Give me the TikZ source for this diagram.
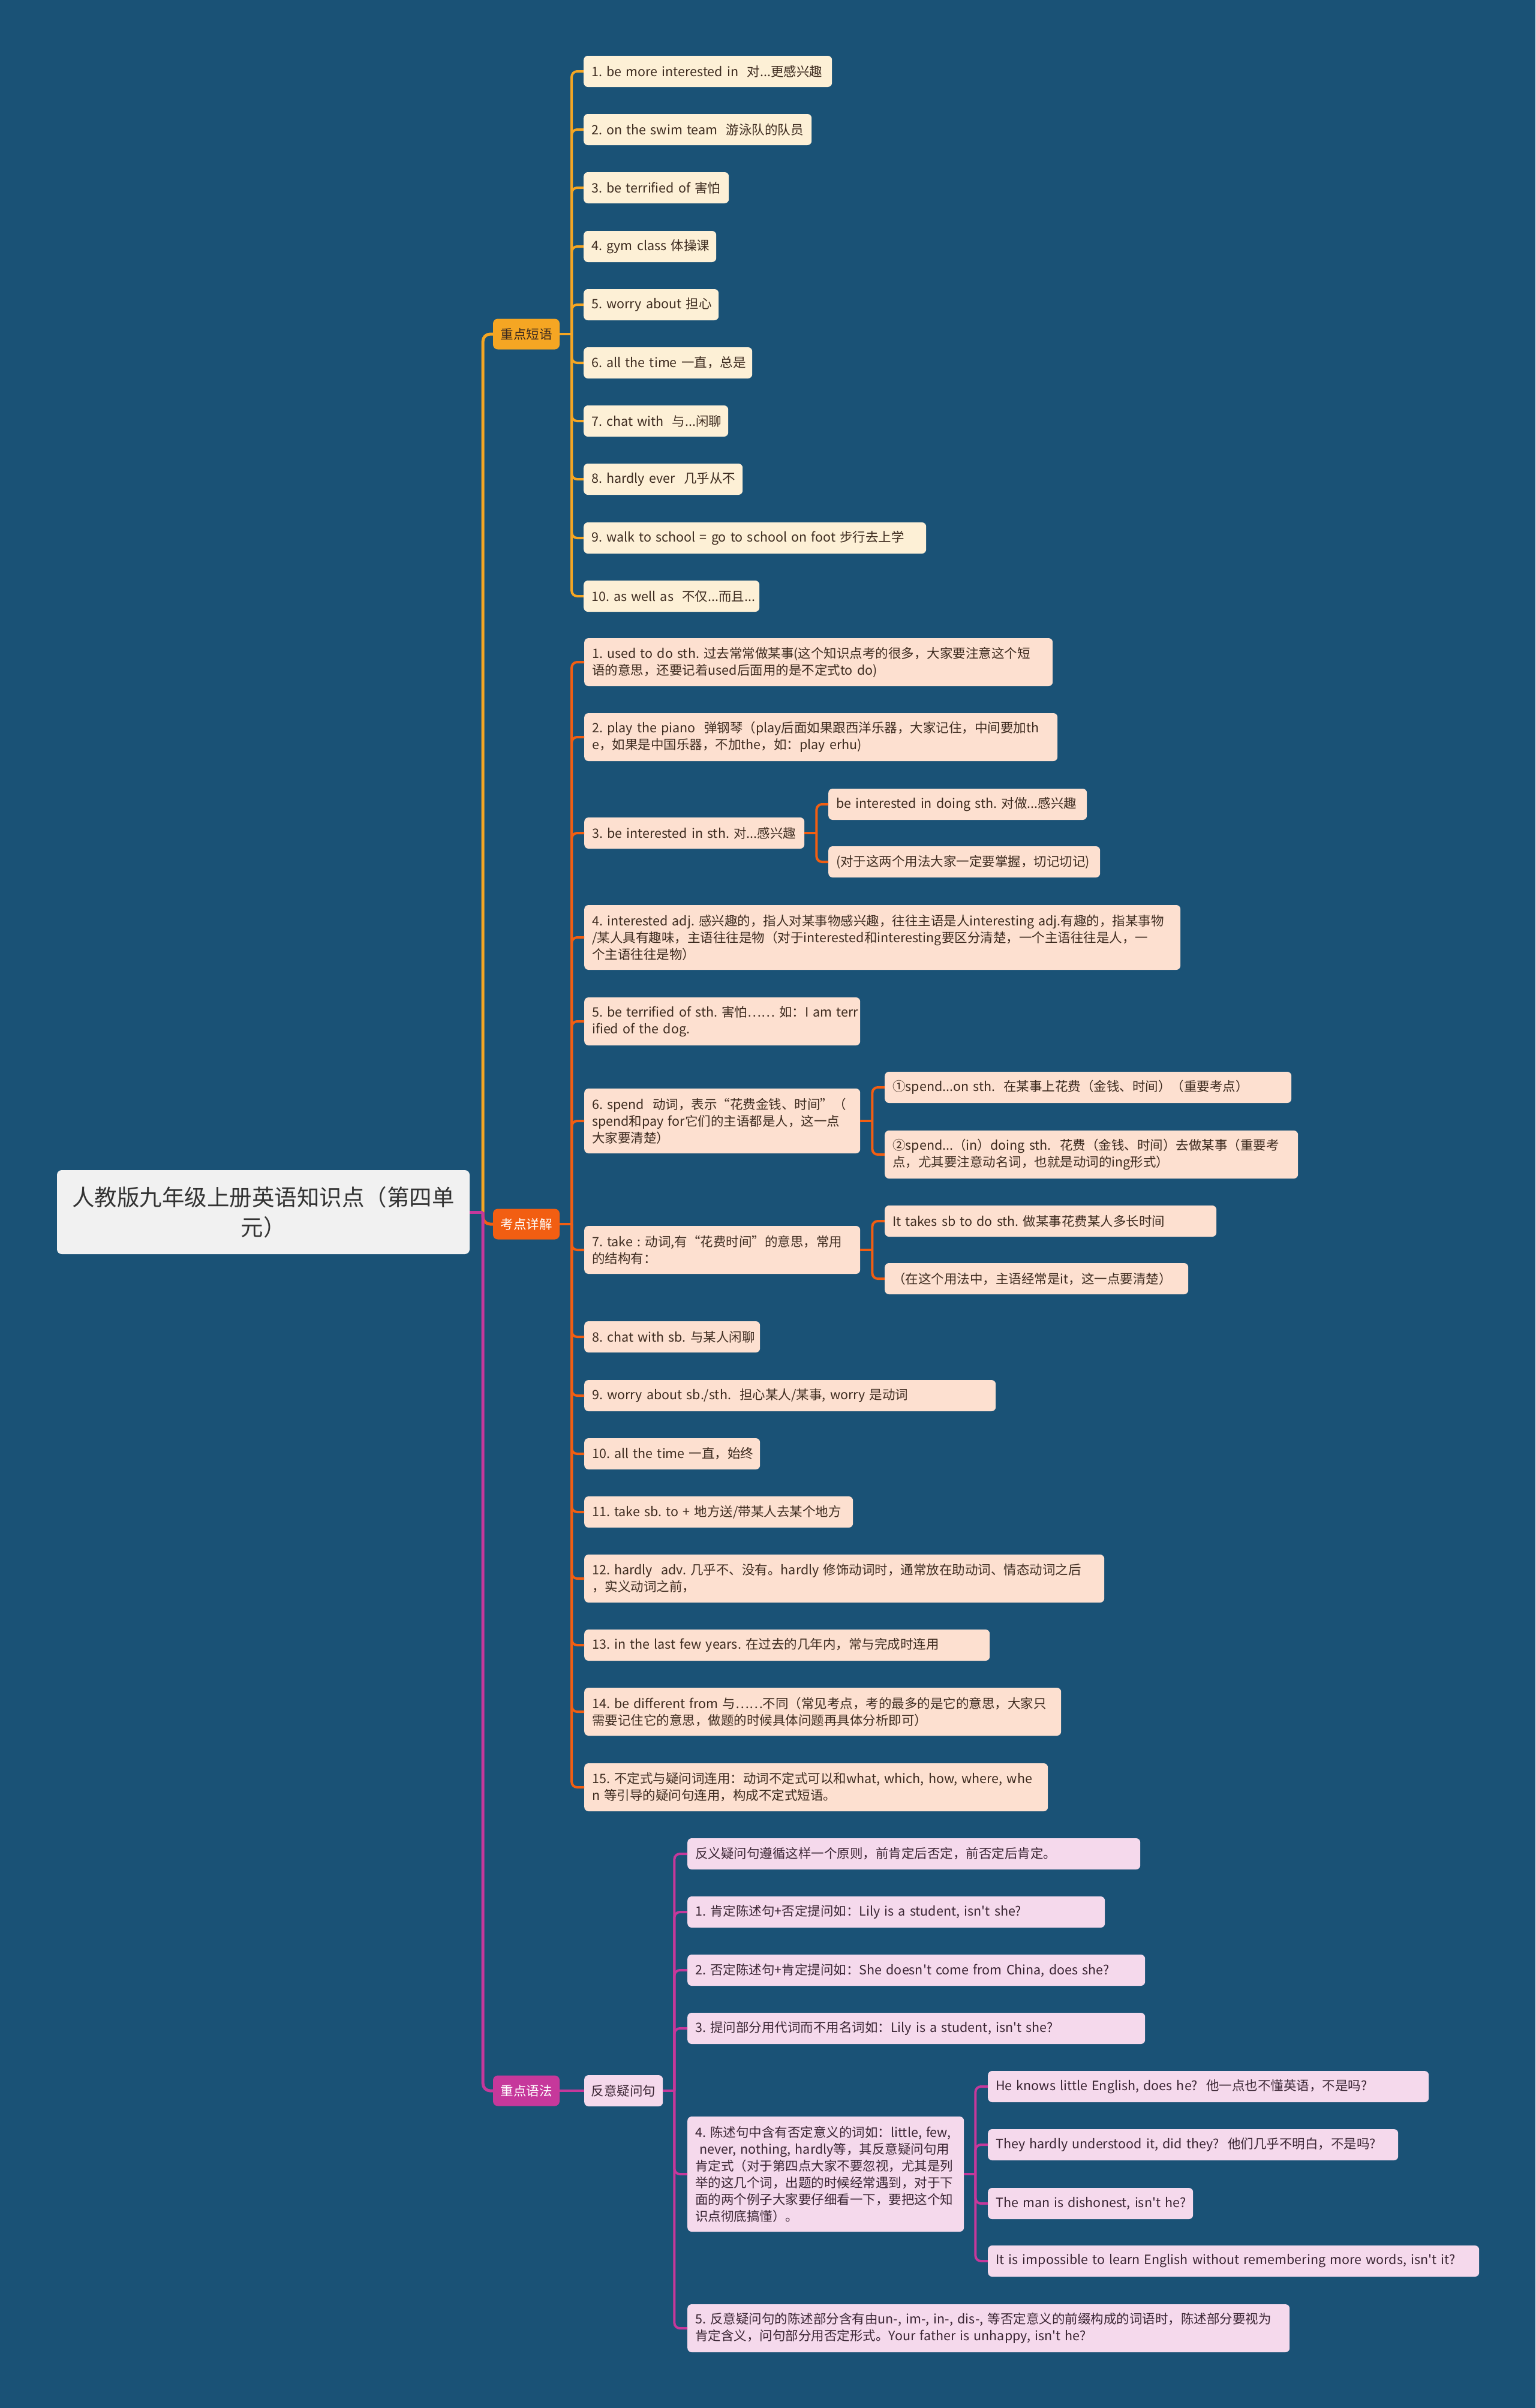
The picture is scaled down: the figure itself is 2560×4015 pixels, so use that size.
\documentclass[tikz,border=0pt]{standalone}
\usepackage{fontspec}
\newfontfamily\zhfont{Noto Sans CJK SC}
\newcommand\NoBr[1]{\mbox{#1}}
\definecolor{bgc}{HTML}{1A5276}
\definecolor{rootfill}{HTML}{F1F1F1}
\definecolor{ycol}{HTML}{F5A623}
\definecolor{yfill}{HTML}{FDF0D6}
\definecolor{ocol}{HTML}{F25E12}
\definecolor{ofill}{HTML}{FDE0D0}
\definecolor{pcol}{HTML}{C6389B}
\definecolor{pfill}{HTML}{F5D9EC}
\definecolor{tdark}{HTML}{3D2B1F}
\definecolor{pdark}{HTML}{3A2533}
\begin{document}
\frenchspacing
\begin{tikzpicture}[x=1pt,y=-1pt,
  box/.style={rounded corners=7pt, anchor=west, align=left, inner xsep=13pt, inner ysep=2pt,
    font=\zhfont\fontsize{21.5}{28}\selectfont},
  n1/.style={minimum height=52pt},
  n2/.style={minimum height=80pt},
  n3/.style={minimum height=108pt},
  n6/.style={minimum height=192pt},
  ybox/.style={box, fill=yfill, text=tdark},
  obox/.style={box, fill=ofill, text=tdark},
  pbox/.style={box, fill=pfill, text=pdark},
  lone/.style={rounded corners=8pt, minimum width=111pt, minimum height=51pt, inner sep=0pt,
    font=\zhfont\fontsize{21.5}{28}\selectfont},
  cone/.style={line width=5pt, rounded corners=12pt},
  ctwo/.style={line width=4pt, rounded corners=9pt}
]
\fill[bgc] (0,0) rectangle (2560,4015);
\useasboundingbox (0,0) rectangle (2560,4015);

% root
\node[rounded corners=8pt, fill=rootfill, text=black!80, minimum width=688pt, minimum height=140pt,
  align=center, inner sep=0pt, font=\zhfont\fontsize{37.5}{50}\selectfont] (root) at (439,2021)
  {人教版九年级上册英语知识点（第四单\\元）};

% level 1
\node[lone, fill=ycol, text=tdark] (ka) at (877.5,557) {重点短语};
\node[lone, fill=ocol, text=white] (kb) at (877.5,2041) {考点详解};
\node[lone, fill=pcol, text=white] (kc) at (877.5,3486) {重点语法};

% yellow branch
\node[ybox, n1, text width=388pt] (y1) at (973,119) {\NoBr{1. be more interested in\ \ 对...更感兴趣}};
\node[ybox, n1, text width=354pt] (y2) at (973,216) {\NoBr{2. on the swim team\ \ 游泳队的队员}};
\node[ybox, n1, text width=216pt] (y3) at (973,313) {\NoBr{3. be terrified of 害怕}};
\node[ybox, n1, text width=195pt] (y4) at (973,411) {\NoBr{4. gym class 体操课}};
\node[ybox, n1, text width=199pt] (y5) at (973,508) {\NoBr{5. worry about 担心}};
\node[ybox, n1, text width=255pt] (y6) at (973,605) {\NoBr{6. all the time 一直，总是}};
\node[ybox, n1, text width=215pt] (y7) at (973,702) {\NoBr{7. chat with\ \ 与...闲聊}};
\node[ybox, n1, text width=239pt] (y8) at (973,799) {\NoBr{8. hardly ever\ \ 几乎从不}};
\node[ybox, n1, text width=545pt] (y9) at (973,897) {\NoBr{9. walk to school = go to school on foot 步行去上学}};
\node[ybox, n1, text width=267pt] (y10) at (973,994) {\NoBr{10. as well as\ \ 不仅...而且...}};

% orange branch
\node[obox, n2, text width=755pt] (o1) at (974,1104) {\NoBr{1. used to do sth. 过去常常做某事(这个知识点考的很多，大家要注意这个短}\\\NoBr{语的意思，还要记着used后面用的是不定式to do)}};
\node[obox, n2, text width=763pt] (o2) at (974,1229) {\NoBr{2. play the piano\ \ 弹钢琴（play后面如果跟西洋乐器，大家记住，中间要加th}\\\NoBr{e，如果是中国乐器，不加the，如：play erhu)}};
\node[obox, n1, text width=341pt] (o3) at (974,1389) {\NoBr{3. be interested in sth. 对...感兴趣}};
\node[obox, n1, text width=405pt] (o3a) at (1381,1341) {\NoBr{be interested in doing sth. 对做...感兴趣}};
\node[obox, n1, text width=427pt] (o3b) at (1381,1437) {\NoBr{(对于这两个用法大家一定要掌握，切记切记)}};
\node[obox, n3, text width=968pt] (o4) at (974,1563) {\NoBr{4. interested adj. 感兴趣的，指人对某事物感兴趣，往往主语是人interesting adj.有趣的，指某事物}\\\NoBr{/某人具有趣味，主语往往是物（对于interested和interesting要区分清楚，一个主语往往是人，一}\\\NoBr{个主语往往是物）}};
\node[obox, n2, text width=434pt] (o5) at (974,1703) {\NoBr{5. be terrified of sth. 害怕…… 如：I am terr}\\\NoBr{ified of the dog.}};
\node[obox, n3, text width=434pt] (o6) at (974,1869) {\NoBr{6. spend\ \ 动词，表示“花费金钱、时间”（}\\\NoBr{spend和pay for它们的主语都是人，这一点}\\\NoBr{大家要清楚）}};
\node[obox, n1, text width=652pt] (o6a) at (1475,1813) {\NoBr{①spend...on sth.\ \ 在某事上花费（金钱、时间）（重要考点）}};
\node[obox, n2, text width=663pt] (o6b) at (1475,1925) {\NoBr{②spend...（in）doing sth.\ \ 花费（金钱、时间）去做某事（重要考}\\\NoBr{点，尤其要注意动名词，也就是动词的ing形式）}};
\node[obox, n2, text width=434pt] (o7) at (974,2084) {\NoBr{7. take : 动词,有“花费时间”的意思，常用}\\\NoBr{的结构有：}};
\node[obox, n1, text width=527pt] (o7a) at (1475,2036) {\NoBr{It takes sb to do sth. 做某事花费某人多长时间}};
\node[obox, n1, text width=480pt] (o7b) at (1475,2132) {\NoBr{（在这个用法中，主语经常是it，这一点要清楚）}};
\node[obox, n1, text width=267pt] (o8) at (974,2229) {\NoBr{8. chat with sb. 与某人闲聊}};
\node[obox, n1, text width=660pt] (o9) at (974,2327) {\NoBr{9. worry about sb./sth.\ \ 担心某人/某事, worry 是动词}};
\node[obox, n1, text width=267pt] (o10) at (974,2424) {\NoBr{10. all the time 一直，始终}};
\node[obox, n1, text width=422pt] (o11) at (974,2521) {\NoBr{11. take sb. to + 地方送/带某人去某个地方}};
\node[obox, n2, text width=841pt] (o12) at (974,2632) {\NoBr{12. hardly\ \ adv. 几乎不、没有。hardly 修饰动词时，通常放在助动词、情态动词之后}\\\NoBr{，实义动词之前，}};
\node[obox, n1, text width=650pt] (o13) at (974,2743) {\NoBr{13. in the last few years. 在过去的几年内，常与完成时连用}};
\node[obox, n2, text width=769pt] (o14) at (974,2854) {\NoBr{14. be different from 与……不同（常见考点，考的最多的是它的意思，大家只}\\\NoBr{需要记住它的意思，做题的时候具体问题再具体分析即可）}};
\node[obox, n2, text width=747pt] (o15) at (974,2980) {\NoBr{15. 不定式与疑问词连用：动词不定式可以和what, which, how, where, whe}\\\NoBr{n 等引导的疑问句连用，构成不定式短语。}};

% purple branch
\node[pbox, n1, text width=109pt, inner xsep=11pt, align=center] (pq) at (974,3486) {反意疑问句};
\node[pbox, n1, text width=729pt] (p0) at (1146,3091) {\NoBr{反义疑问句遵循这样一个原则，前肯定后否定，前否定后肯定。}};
\node[pbox, n1, text width=670pt] (p1) at (1146,3188) {\NoBr{1. 肯定陈述句+否定提问如：Lily is a student, isn't she?}};
\node[pbox, n1, text width=737pt] (p2) at (1146,3285) {\NoBr{2. 否定陈述句+肯定提问如：She doesn't come from China, does she?}};
\node[pbox, n1, text width=737pt] (p3) at (1146,3382) {\NoBr{3. 提问部分用代词而不用名词如：Lily is a student, isn't she?}};
\node[pbox, n6, text width=435pt] (p4) at (1146,3625) {\NoBr{4. 陈述句中含有否定意义的词如：little, few,}\\\NoBr{\ never, nothing, hardly等，其反意疑问句用}\\\NoBr{肯定式（对于第四点大家不要忽视，尤其是列}\\\NoBr{举的这几个词，出题的时候经常遇到，对于下}\\\NoBr{面的两个例子大家要仔细看一下，要把这个知}\\\NoBr{识点彻底搞懂）。}};
\node[pbox, n1, text width=709pt] (c1) at (1647,3479) {\NoBr{He knows little English, does he?\ \ 他一点也不懂英语，不是吗?}};
\node[pbox, n1, text width=658pt] (c2) at (1647,3576) {\NoBr{They hardly understood it, did they?\ \ 他们几乎不明白，不是吗?}};
\node[pbox, n1, text width=316pt] (c3) at (1647,3674) {\NoBr{The man is dishonest, isn't he?}};
\node[pbox, n1, text width=793pt] (c4) at (1647,3770) {\NoBr{It is impossible to learn English without remembering more words, isn't it?}};
\node[pbox, n2, text width=978pt] (p5) at (1146,3882) {\NoBr{5. 反意疑问句的陈述部分含有由un-, im-, in-, dis-, 等否定意义的前缀构成的词语时，陈述部分要视为}\\\NoBr{肯定含义，问句部分用否定形式。Your father is unhappy, isn't he?}};

% connectors: root to level 1
\path (root.east) ++(22,0) coordinate (rs);
\draw[cone, ycol] (rs) |- (ka.west);
\draw[cone, ocol] (rs) |- (kb.west);
\draw[cone, pcol] (rs) |- (kc.west);
\draw[cone, pcol] (root.east) -- (rs);

% yellow connectors
\path (ka.east) ++(20,0) coordinate (ys);
\draw[ctwo, ycol] (ka.east) -- (ys);
\foreach \c in {y1,y2,y3,y4,y5,y6,y7,y8,y9,y10} {\draw[ctwo, ycol] (ys) |- (\c.west);}

% orange connectors
\path (kb.east) ++(20,0) coordinate (os);
\draw[ctwo, ocol] (kb.east) -- (os);
\foreach \c in {o1,o2,o3,o4,o5,o6,o7,o8,o9,o10,o11,o12,o13,o14,o15} {\draw[ctwo, ocol] (os) |- (\c.west);}
\path (o3.east) ++(20,0) coordinate (o3s);
\draw[ctwo, ocol] (o3.east) -- (o3s);
\draw[ctwo, ocol] (o3s) |- (o3a.west);
\draw[ctwo, ocol] (o3s) |- (o3b.west);
\path (o6.east) ++(20,0) coordinate (o6s);
\draw[ctwo, ocol] (o6.east) -- (o6s);
\draw[ctwo, ocol] (o6s) |- (o6a.west);
\draw[ctwo, ocol] (o6s) |- (o6b.west);
\path (o7.east) ++(20,0) coordinate (o7s);
\draw[ctwo, ocol] (o7.east) -- (o7s);
\draw[ctwo, ocol] (o7s) |- (o7a.west);
\draw[ctwo, ocol] (o7s) |- (o7b.west);

% purple connectors
\draw[ctwo, pcol] (kc.east) -- (pq.west);
\path (pq.east) ++(19,0) coordinate (ps);
\draw[ctwo, pcol] (pq.east) -- (ps);
\foreach \c in {p0,p1,p2,p3,p4,p5} {\draw[ctwo, pcol] (ps) |- (\c.west);}
\path (p4.east) ++(19,0) coordinate (p4s);
\draw[ctwo, pcol] (p4.east) -- (p4s);
\foreach \c in {c1,c2,c3,c4} {\draw[ctwo, pcol] (p4s) |- (\c.west);}
\end{tikzpicture}
\end{document}
